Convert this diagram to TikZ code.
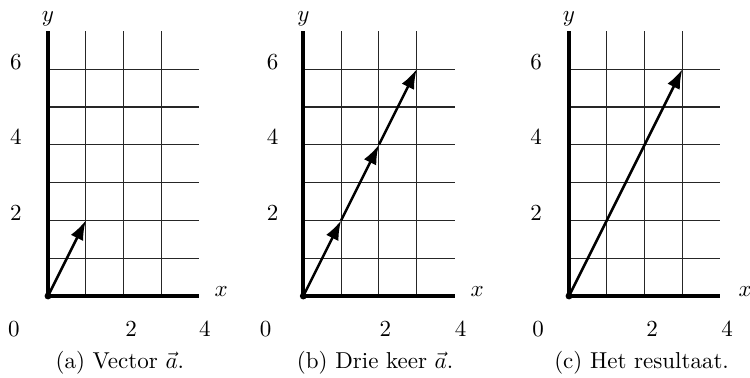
\documentclass[tikz,border=0pt]{standalone}
\usetikzlibrary{arrows.meta}
\tikzset{
  gridline/.style={line width=0.5pt, black!85},
  axisline/.style={line width=1.75pt},
  vecline/.style={line width=1.1pt, -{Latex[length=8.5pt,width=6pt]}},
  lbl/.style={anchor=base, inner sep=0pt},
  panelunits/.style={x=16.435pt, y=16.435pt}
}
\newcommand{\panelgrid}{%
  \foreach \j in {1,...,6} \draw[gridline] (0,\j) -- (4,\j);
  \foreach \i in {1,2,3} \draw[gridline] (\i,0) -- (\i,7);
  \draw[axisline] (0,0) -- (0,7);
  \draw[axisline] (0,0) -- (4,0);
  \fill (0,0) circle (1.5pt);
}
\begin{document}
\begin{tikzpicture}[x=0.4348pt, y=0.4348pt]
\useasboundingbox (0,0) rectangle (750,377);
% panel a
\begin{scope}[shift={(48,81)}, panelunits]
  \panelgrid
  \node[lbl] (ya) at (0,7.25) {$y$};
  \node[lbl] (xa) at (4.58,0) {$x$};
  \foreach \v in {2,4,6} \node[lbl] at (-0.85,\v) {\v};
  \node[lbl] (xa0) at (-0.9,-1.06) {0};
  \node[lbl] (xa2) at (2.2,-1.06) {2};
  \node[lbl] (xa4) at (4.15,-1.06) {4};
  \coordinate (Oa) at (0,0);
  \coordinate (Aa) at (1,2);
  \draw[vecline] (Oa) -- (Aa);
  \node[lbl] (capa) at (1.9,-1.93) {(a) Vector $\vec{a}$.};
\end{scope}
% panel b
\begin{scope}[shift={(303.3,81)}, panelunits]
  \panelgrid
  \node[lbl] (yb) at (0,7.25) {$y$};
  \node[lbl] (xb) at (4.6,0) {$x$};
  \foreach \v in {2,4,6} \node[lbl] at (-0.81,\v) {\v};
  \node[lbl] (xb0) at (-1.0,-1.06) {0};
  \node[lbl] (xb2) at (2.17,-1.06) {2};
  \node[lbl] (xb4) at (4.16,-1.06) {4};
  \coordinate (Ob) at (0,0);
  \coordinate (B1) at (1,2);
  \coordinate (B2) at (2,4);
  \coordinate (B3) at (3,6);
  \draw[vecline] (Ob) -- (B1);
  \draw[vecline] (B1) -- (B2);
  \draw[vecline] (B2) -- (B3);
  \node[lbl] (capb) at (1.9,-1.93) {(b) Drie keer $\vec{a}$.};
\end{scope}
% panel c
\begin{scope}[shift={(569,81)}, panelunits]
  \panelgrid
  \node[lbl] (yc) at (0,7.25) {$y$};
  \node[lbl] (xc) at (4.66,0) {$x$};
  \foreach \v in {2,4,6} \node[lbl] at (-0.87,\v) {\v};
  \node[lbl] (xc0) at (-0.82,-1.06) {0};
  \node[lbl] (xc2) at (2.2,-1.06) {2};
  \node[lbl] (xc4) at (4.18,-1.06) {4};
  \coordinate (Oc) at (0,0);
  \coordinate (C1) at (3,6);
  \draw[vecline] (Oc) -- (C1);
  \node[lbl] (capc) at (1.92,-1.93) {(c) Het resultaat.};
\end{scope}
\end{tikzpicture}
\end{document}
